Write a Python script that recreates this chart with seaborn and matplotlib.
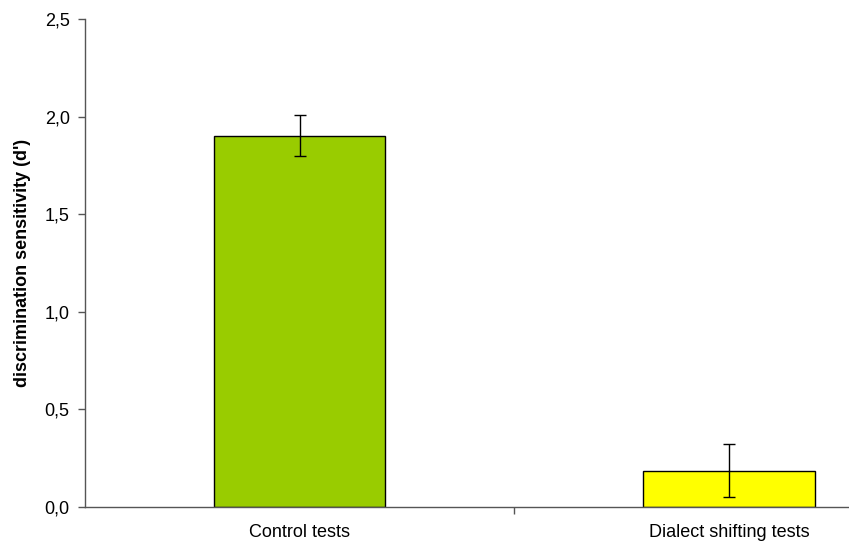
import matplotlib
matplotlib.use('Agg')
import matplotlib.pyplot as plt
import numpy as np
import pandas as pd
import seaborn as sns
from matplotlib.ticker import FixedLocator, FuncFormatter

conditions = ['Control tests', 'Dialect shifting tests']
d_prime = [1.90, 0.186]
err_upper = [0.107, 0.135]
err_lower = [0.103, 0.135]
bar_colors = ['#99CC00', '#FFFF00']

sns.set_style('white')
plt.rcParams['font.family'] = ['Liberation Sans', 'DejaVu Sans']
plt.rcParams['text.color'] = 'black'
plt.rcParams['axes.labelcolor'] = 'black'
plt.rcParams['xtick.color'] = 'black'
plt.rcParams['ytick.color'] = 'black'

df = pd.DataFrame({'condition': conditions, 'dprime': d_prime})

fig = plt.figure(figsize=(8.49, 5.42), dpi=100)
ax = fig.add_axes([85 / 849, 35 / 542, 1 - 85 / 849, (507 - 19) / 542])

sns.barplot(data=df, x='condition', y='dprime', hue='condition', palette=bar_colors,
            saturation=1, width=0.4, edgecolor='black', linewidth=1.0, legend=False, ax=ax)
x_pos = np.arange(len(conditions))
ax.errorbar(x_pos, d_prime, yerr=[err_lower, err_upper], fmt='none',
            ecolor='black', elinewidth=1.0, capsize=4, capthick=1.0)

ax.set_xlim(-0.5, 1.28)
ax.set_ylim(0, 2.5)
ax.set_yticks(np.arange(0, 2.51, 0.5))
ax.yaxis.set_major_formatter(FuncFormatter(lambda v, _: f'{v:.1f}'.replace('.', ',')))
ax.set_xlabel('')
ax.set_ylabel('discrimination sensitivity (d\')', fontsize=13, fontweight='bold', labelpad=10)

for side in ['top', 'right']:
    ax.spines[side].set_visible(False)
for side in ['left', 'bottom']:
    ax.spines[side].set_color('#555555')
    ax.spines[side].set_linewidth(1.0)

ax.tick_params(axis='y', which='major', direction='out', length=5, width=1, color='#555555',
               labelsize=13, pad=6, left=True)
ax.tick_params(axis='x', which='major', length=0, labelsize=13, pad=12)
ax.xaxis.set_minor_locator(FixedLocator([0.5]))
ax.tick_params(axis='x', which='minor', direction='out', length=5, width=1, color='#555555', bottom=True)

fig.savefig('out.png', dpi=100)
